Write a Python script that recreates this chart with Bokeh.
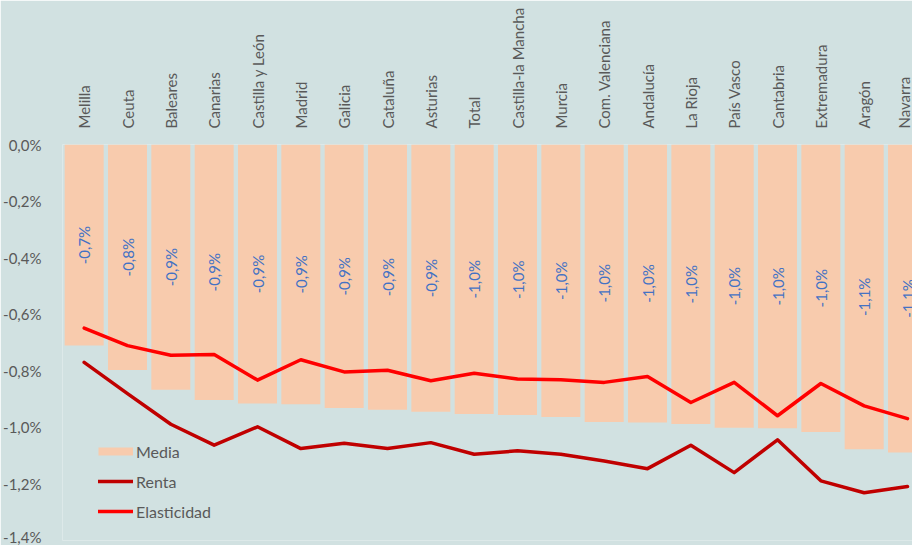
import math
from bokeh.plotting import figure
from bokeh.models import (Range1d, FixedTicker, CustomJSTickFormatter, Legend, LegendItem,
                          ColumnDataSource)
from bokeh.core.properties import value
from bokeh.embed import file_html
from bokeh.resources import INLINE

regiones = ["Melilla", "Ceuta", "Baleares", "Canarias", "Castilla y León", "Madrid", "Galicia",
            "Cataluña", "Asturias", "Total", "Castilla-la Mancha", "Murcia", "Com. Valenciana",
            "Andalucía", "La Rioja", "País Vasco", "Cantabria", "Extremadura", "Aragón", "Navarra"]
media = [-0.711, -0.797, -0.867, -0.903, -0.916, -0.918, -0.932, -0.938, -0.945, -0.953,
         -0.956, -0.963, -0.981, -0.983, -0.988, -1.001, -1.003, -1.016, -1.077, -1.089]
renta = [-0.770, -0.881, -0.989, -1.063, -0.998, -1.075, -1.056, -1.075, -1.054, -1.095,
         -1.083, -1.095, -1.119, -1.146, -1.063, -1.160, -1.044, -1.189, -1.231, -1.209]
elasticidad = [-0.649, -0.711, -0.745, -0.742, -0.833, -0.761, -0.804, -0.798, -0.835, -0.809,
               -0.829, -0.832, -0.841, -0.820, -0.912, -0.841, -0.959, -0.845, -0.924, -0.969]
y_ticks = [0.0, -0.2, -0.4, -0.6, -0.8, -1.0, -1.2, -1.4]

BG = "#d1e1e1"
PEACH = "#f8cbad"
GRAY = "#595959"
FONT = "Lato"

idx = list(range(len(regiones)))
labels = [("%.1f" % v).replace(".", ",") + "%" for v in media]
src = ColumnDataSource(dict(x=idx, media=media, half=[v / 2 for v in media], lab=labels,
                            renta=renta, elas=elasticidad))

p = figure(width=912, height=545, output_backend="svg", toolbar_location=None,
           x_range=Range1d(-0.5, 19.115), y_range=Range1d(-1.4, 0.0),
           x_axis_location="above", background_fill_color=BG, border_fill_color=BG,
           min_border_left=59, min_border_right=0, min_border_top=144, min_border_bottom=5)
p.outline_line_color = None
p.xgrid.visible = False
p.ygrid.visible = False

p.vbar(x="x", top=0, bottom="media", width=0.9, source=src, fill_color=PEACH, line_color=None)
p.text(x="x", y="half", text="lab", source=src, angle=math.pi / 2, text_align="center",
       text_baseline="middle", text_color="#4472c4", text_font=value(FONT), text_font_size="15px")
l_renta = p.line(x="x", y="renta", source=src, line_color="#c00000", line_width=3.5,
                 line_join="round", line_cap="round")
l_elas = p.line(x="x", y="elas", source=src, line_color="#ff0000", line_width=3.5,
                line_join="round", line_cap="round")
l_media_leg = p.line(x=[float("nan")], y=[float("nan")], line_color=PEACH, line_width=8,
                     line_cap="butt")

xa = p.xaxis[0]
xa.ticker = FixedTicker(ticks=idx)
xa.major_label_overrides = {i: n for i, n in enumerate(regiones)}
xa.major_label_orientation = math.pi / 2
xa.axis_line_color = None
xa.major_tick_line_color = None
xa.minor_tick_line_color = None
xa.major_label_standoff = 10
xa.major_label_text_font = FONT
xa.major_label_text_font_size = "15px"
xa.major_label_text_color = GRAY

ya = p.yaxis[0]
ya.ticker = FixedTicker(ticks=y_ticks)
ya.formatter = CustomJSTickFormatter(code="return tick.toFixed(1).replace('.', ',') + '%';")
ya.axis_line_color = None
ya.major_tick_line_color = None
ya.minor_tick_line_color = None
ya.major_label_standoff = 15
ya.major_label_text_font = FONT
ya.major_label_text_font_size = "15px"
ya.major_label_text_color = GRAY

legend = Legend(items=[LegendItem(label="Media", renderers=[l_media_leg]),
                       LegendItem(label="Renta", renderers=[l_renta]),
                       LegendItem(label="Elasticidad", renderers=[l_elas])],
                location=(36, 19), background_fill_alpha=0, border_line_color=None,
                padding=0, margin=0, spacing=10, glyph_width=35, glyph_height=20,
                label_height=20, label_standoff=3, label_text_font=FONT,
                label_text_font_size="16px", label_text_color=GRAY)
p.add_layout(legend, "center")

open("out.html", "w").write(file_html(p, INLINE))
